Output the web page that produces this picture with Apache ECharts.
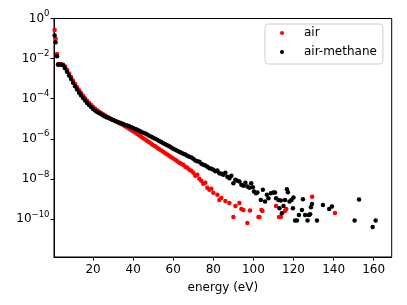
<!DOCTYPE html>
<html><head><meta charset="utf-8">
<script src="https://cdn.jsdelivr.net/npm/echarts@6/dist/echarts.min.js"></script>
<style>html,body{margin:0;padding:0;background:#fff}#c{width:407px;height:305px}</style>
</head><body><div id="c"></div>
<script>
// energies (eV) and log10 of the distribution values
const airEnergy = [0.8,1.3,2,2.5,3,4,5,6,7,8,9,10,11,12,13,14,15,16,17,18,19,20,21,22,23,24,25,26,27,28,29,30,31,32,33,34,35,36,37,38,39,40,41,42,43,44,45,46,47,48,49,50,51,52,53,54,55,56,57,58,59,60,61,62,63,64,65,66,67,68,69,70,71,72,73,74,75,76,77,78,79,80,82,83,84,86,88,90,91,93,94,95,97,98.3,102.5,103,104,104.5,111.3,112.8,113.7,115.8,116.4,129.3,140.7];
const airLog10 = [-0.58,-1.0,-1.77,-2.3,-2.30,-2.30,-2.31,-2.40,-2.56,-2.74,-2.92,-3.10,-3.27,-3.43,-3.58,-3.72,-3.86,-3.98,-4.10,-4.21,-4.31,-4.41,-4.50,-4.58,-4.65,-4.72,-4.78,-4.84,-4.90,-4.95,-5.01,-5.06,-5.11,-5.16,-5.21,-5.27,-5.32,-5.38,-5.44,-5.50,-5.56,-5.62,-5.69,-5.76,-5.83,-5.90,-5.97,-6.04,-6.11,-6.18,-6.25,-6.32,-6.38,-6.45,-6.52,-6.58,-6.65,-6.72,-6.78,-6.85,-6.92,-6.98,-7.05,-7.12,-7.20,-7.25,-7.30,-7.40,-7.45,-7.55,-7.60,-7.70,-7.85,-7.80,-8.00,-8.10,-8.25,-8.20,-8.45,-8.55,-8.50,-8.70,-8.80,-9.05,-8.95,-9.10,-9.20,-9.90,-9.35,-9.20,-9.50,-9.55,-10.20,-9.58,-9.9,-9.9,-9.55,-9.6,-9.35,-9.9,-9.9,-9.6,-9.5,-8.9,-9.7];

const methaneEnergy = [0.8,1.3,2,2.5,3,4,5,6,7,8,9,10,11,12,13,14,15,16,17,18,19,20,21,22,23,24,25,26,27,28,29,30,31,32,33,34,35,36,37,38,39,40,41,42,43,44,45,46,47,48,49,50,51,52,53,54,55,56,57,58,59,60,61,62,63,64,65,66,67,68,69,70,71,72,73,74,75,76,77,78,79,80,81,82,83,84,85,86,87,88,89,90,91,92,93,94,95,96,97,98,98.9,99.7,100.3,101.3,102,103.7,104.7,105.8,106.7,107.5,108.7,110,110.8,111.3,112.5,113,113.7,114.2,115,115.8,116.7,117.2,118,119,120,119.7,120.8,121.7,122.7,124.2,124.7,125.8,127,127.7,128.3,128.7,129.2,131.7,134.7,137.8,139.2,150.5,152.7,159.5,161];
const methaneLog10 = [-0.85,-1.18,-1.88,-2.3,-2.30,-2.30,-2.33,-2.48,-2.66,-2.84,-3.02,-3.20,-3.38,-3.54,-3.70,-3.84,-3.97,-4.09,-4.21,-4.32,-4.42,-4.51,-4.59,-4.66,-4.72,-4.78,-4.84,-4.89,-4.94,-4.98,-5.03,-5.07,-5.11,-5.15,-5.19,-5.23,-5.27,-5.31,-5.34,-5.38,-5.42,-5.46,-5.51,-5.55,-5.60,-5.65,-5.70,-5.74,-5.79,-5.85,-5.90,-5.95,-6.00,-6.05,-6.11,-6.16,-6.22,-6.27,-6.33,-6.38,-6.44,-6.50,-6.55,-6.60,-6.65,-6.70,-6.75,-6.79,-6.85,-6.90,-6.94,-7.00,-7.08,-7.12,-7.15,-7.25,-7.30,-7.33,-7.40,-7.47,-7.50,-7.55,-7.62,-7.58,-7.72,-7.75,-7.80,-7.70,-7.90,-7.97,-7.85,-8.22,-8.05,-8.10,-8.13,-8.30,-8.35,-8.20,-8.38,-8.45,-8.22,-8.42,-8.63,-8.72,-8.68,-9.05,-8.55,-9.13,-8.8,-8.97,-8.72,-8.68,-8.68,-8.97,-9.05,-9.47,-9.08,-9.72,-9.35,-9.05,-8.52,-8.67,-9.13,-9.05,-8.93,-9.47,-10.08,-10.08,-9.8,-9.55,-9.02,-9.8,-10.08,-9.8,-9.77,-9.42,-9.25,-10.08,-9.3,-9.5,-9.38,-10.08,-9.03,-10.4,-10.08];

const xTicks = [20,40,60,80,100,120,140,160];
const yTicks = [1,1e-2,1e-4,1e-6,1e-8,1e-10];
const seriesNames = ['air','air-methane'];

const toPairs = (xs, ls) => xs.map((x,i) => [x, Math.pow(10, ls[i])]);
const FONT = 'DejaVu Sans';
const chart = echarts.init(document.getElementById('c'), null, {renderer:'canvas'});
chart.setOption({
  animation: false,
  grid: {left:54, top:18.5, right:15.3, bottom:48, show:true, borderColor:'#000', borderWidth:1, backgroundColor:'transparent'},
  legend: {
    orient:'vertical', left:265, top:24, data: seriesNames,
    icon:'circle', itemWidth:4, itemHeight:4, itemGap:5,
    padding:[2,6,5,15],
    backgroundColor:'rgba(255,255,255,0.8)', borderColor:'#cccccc', borderWidth:1, borderRadius:3,
    textStyle:{fontFamily:FONT, fontSize:12, color:'#000', lineHeight:14, padding:[0,0,0,15]}
  },
  xAxis: {
    type:'value', min:0.5, max:169,
    name:'energy (eV)', nameLocation:'middle', nameGap:25,
    nameTextStyle:{fontFamily:FONT, fontSize:12, color:'#000'},
    axisLine:{show:true, lineStyle:{color:'#000', width:1}},
    axisTick:{show:true, inside:false, length:3.5, customValues: xTicks, lineStyle:{color:'#000'}},
    axisLabel:{fontFamily:FONT, fontSize:12, color:'#000', margin:7, customValues: xTicks},
    splitLine:{show:false}
  },
  yAxis: {
    type:'log', logBase:10, min:Math.pow(10,-11.9), max:1,
    axisLine:{show:true, lineStyle:{color:'#000', width:1}},
    axisTick:{show:true, inside:false, length:3.5, customValues: yTicks, lineStyle:{color:'#000'}},
    axisLabel:{
      customValues: yTicks, margin:4.5, color:'#000', verticalAlign:'middle',
      formatter: v => { const e = Math.round(Math.log10(v)); return '{b|10}{s|' + (e===0 ? '0' : '\u2212' + (-e)) + '}'; },
      rich:{
        b:{fontFamily:FONT, fontSize:12, color:'#000', lineHeight:18},
        s:{fontFamily:FONT, fontSize:8.5, color:'#000', lineHeight:11, verticalAlign:'top'}
      }
    },
    splitLine:{show:false}
  },
  series: [
    {name:seriesNames[0], type:'scatter', data: toPairs(airEnergy, airLog10), symbol:'circle', symbolSize:4.5,
     itemStyle:{color:'#ff0000', opacity:1}, emphasis:{disabled:true}, clip:true},
    {name:seriesNames[1], type:'scatter', data: toPairs(methaneEnergy, methaneLog10), symbol:'circle', symbolSize:4.5,
     itemStyle:{color:'#000000', opacity:1}, emphasis:{disabled:true}, clip:true}
  ]
});
</script></body></html>
